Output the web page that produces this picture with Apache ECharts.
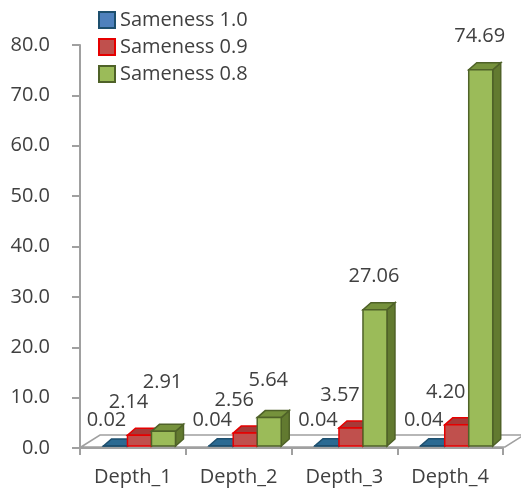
<!DOCTYPE html>
<html>
<head>
<meta charset="utf-8">
<script src="https://cdn.jsdelivr.net/npm/echarts@6/dist/echarts.min.js"></script>
<style>
  html, body { margin: 0; padding: 0; background: #ffffff; }
  #chart { width: 521px; height: 494px; }
</style>
</head>
<body>
<div id="chart"></div>
<script>
// Category names and the three series of values
const categories = ['Depth_1', 'Depth_2', 'Depth_3', 'Depth_4'];
const sameness10 = [0.02, 0.04, 0.04, 0.04];
const sameness09 = [2.14, 2.56, 3.57, 4.20];
const sameness08 = [2.91, 5.64, 27.06, 74.69];
const seriesNames = ['Sameness 1.0', 'Sameness 0.9', 'Sameness 0.8'];
const yMin = 0, yMax = 80, yStep = 10;

const allValues = [sameness10, sameness09, sameness08];

const FONT = '"Open Sans", "Noto Sans", sans-serif';
const TEXT_COLOR = '#404040';
const AXIS_COLOR = '#a0a0a0';

// Face colours of the pseudo-3D columns: front, top, side, edge
const palette = [
  { front: '#4f81bd', top: '#2b6a92', side: '#24577a', edge: '#1d4f6e' },
  { front: '#c0504d', top: '#a63a38', side: '#8f2f2d', edge: '#e60000' },
  { front: '#9bbb59', top: '#76923c', side: '#627a30', edge: '#4f6228' }
];

// Depth of the column boxes and of the floor, in pixels
const DEPTH = [8, -7];
const FLOOR_DEPTH = [19, -12];
const labelShiftX = [-9, -11, -1];

function makeBarRenderer(k) {
  return function (params, api) {
    const idx = api.value(0);
    const v = api.value(1);
    const band = api.size([1, 0])[0];
    const base = api.coord([idx, 0]);
    const top = api.coord([idx, v]);
    const barW = band * 0.227;
    const x = base[0] + band * 0.0624 + (k - 1.5) * barW;
    const yb = base[1] - 2;
    const yt = top[1] - 2;
    const dx = DEPTH[0], dy = DEPTH[1];
    const c = palette[k];

    // label heights, stacked so neighbouring labels in a group do not collide
    const topY = (val) => api.coord([idx, val])[1] - 2;
    const blueY = topY(sameness10[idx]) - 26;
    const redY = Math.min(topY(sameness09[idx]) - 33, blueY - 18);
    const greenY = Math.min(topY(sameness08[idx]) - 33, redY - 20);
    const labelY = [blueY, redY, greenY][k];

    const lw = 1.5;
    return {
      type: 'group',
      children: [
        {
          type: 'polygon',
          shape: { points: [[x + barW, yt], [x + barW + dx, yt + dy], [x + barW + dx, yb + dy], [x + barW, yb]] },
          style: { fill: c.side, stroke: c.edge, lineWidth: lw }
        },
        {
          type: 'polygon',
          shape: { points: [[x, yt], [x + barW, yt], [x + barW + dx, yt + dy], [x + dx, yt + dy]] },
          style: { fill: c.top, stroke: c.edge, lineWidth: lw }
        },
        {
          type: 'rect',
          shape: { x: x, y: yt, width: barW, height: Math.max(yb - yt, 0) },
          style: { fill: c.front, stroke: c.edge, lineWidth: lw }
        },
        {
          type: 'text',
          z2: 100,
          style: {
            text: v.toFixed(2),
            x: x + barW / 2 + labelShiftX[k],
            y: labelY,
            align: 'center',
            verticalAlign: 'middle',
            fill: TEXT_COLOR,
            font: '20px ' + FONT
          }
        }
      ]
    };
  };
}

// Floor plane under the columns
function renderFloor(params, api) {
  const left = api.coord([0, 0]);
  const band = api.size([1, 0])[0];
  const x0 = left[0] - band / 2 + 1;
  const x1 = x0 + band * categories.length + 1;
  const y0 = left[1] - 1;
  const fx = FLOOR_DEPTH[0], fy = FLOOR_DEPTH[1];
  return {
    type: 'polygon',
    shape: { points: [[x0, y0], [x0 + fx, y0 + fy], [x1 + fx, y0 + fy], [x1, y0]] },
    style: { fill: '#ffffff', stroke: AXIS_COLOR, lineWidth: 1.5 }
  };
}

const series = [
  {
    type: 'custom',
    name: '__floor',
    silent: true,
    z: 1,
    renderItem: renderFloor,
    data: [[0, 0]],
    encode: { x: 0, y: 1 }
  }
];
allValues.forEach((vals, k) => {
  series.push({
    type: 'custom',
    name: seriesNames[k],
    z: 2 + k,
    itemStyle: { color: palette[k].front },
    renderItem: makeBarRenderer(k),
    data: vals.map((v, i) => [i, v]),
    encode: { x: 0, y: 1 }
  });
});

const chart = echarts.init(document.getElementById('chart'), null, { renderer: 'canvas' });
chart.setOption({
  animation: false,
  backgroundColor: '#ffffff',
  textStyle: { fontFamily: FONT },
  grid: { left: 80, right: 18, top: 45, bottom: 46, containLabel: false },
  legend: {
    orient: 'vertical',
    left: 98,
    top: 10,
    padding: 0,
    icon: 'rect',
    itemWidth: 16,
    itemHeight: 16,
    itemGap: 7,
    selectedMode: false,
    textStyle: { fontFamily: FONT, fontSize: 20, color: TEXT_COLOR },
    data: seriesNames.map((n, k) => ({
      name: n,
      itemStyle: { color: palette[k].front, borderColor: palette[k].edge, borderWidth: 2 }
    }))
  },
  xAxis: {
    type: 'category',
    data: categories,
    boundaryGap: true,
    axisLine: { show: true, lineStyle: { color: AXIS_COLOR, width: 2 } },
    axisTick: { show: true, alignWithLabel: false, length: 7, lineStyle: { color: AXIS_COLOR, width: 2 } },
    axisLabel: { color: TEXT_COLOR, fontSize: 20, fontFamily: FONT, margin: 19 },
    splitLine: { show: false }
  },
  yAxis: {
    type: 'value',
    min: yMin,
    max: yMax,
    interval: yStep,
    axisLine: { show: true, lineStyle: { color: AXIS_COLOR, width: 2 } },
    axisTick: { show: true, length: 8, lineStyle: { color: AXIS_COLOR, width: 2 } },
    axisLabel: { color: TEXT_COLOR, fontSize: 20, fontFamily: FONT, margin: 30, formatter: (v) => v.toFixed(1) },
    splitLine: { show: false }
  },
  series: series
});
</script>
</body>
</html>
